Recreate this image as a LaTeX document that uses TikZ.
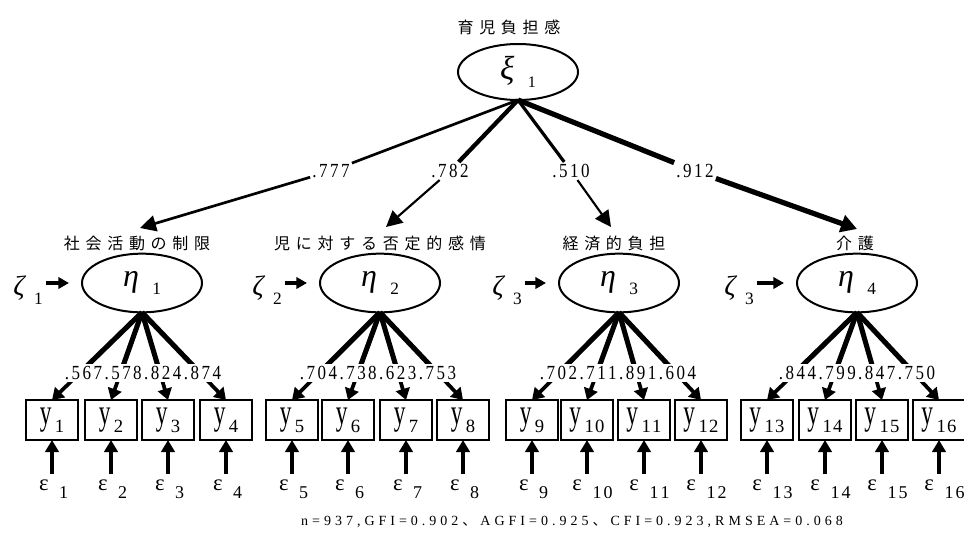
\documentclass[tikz,border=0pt]{standalone}
\usepackage{fontspec}
\usepackage{graphicx}
\setmainfont{Liberation Serif}
\newfontfamily\cjk{Noto Sans CJK JP}
\usetikzlibrary{arrows.meta,calc,shapes.geometric}
\makeatletter
\newcommand\lsp[2]{\@tfor\lsp@c:=#2\do{\lsp@c\hspace{#1}}\unskip}
\newcommand\lspx[2]{\edef\lsp@t{#2}\def\lsp@s{#1}\expandafter\lsp@go\expandafter{\lsp@t}}
\newcommand\lsp@go[1]{\lsp{\lsp@s}{#1}}
\makeatother
\newcommand\cj[1]{{\cjk\fontsize{12}{14}\selectfont\lsp{4.3pt}{#1}}}
\newcommand\Lat[4]{{\fontsize{#3}{#3}\selectfont\itshape #1}\hspace{10pt}\raisebox{-6pt}{\fontsize{#4}{#4}\selectfont #2}}
\newcommand\Zt[1]{{\fontsize{21}{21}\selectfont\itshape ζ}\hspace{7pt}\raisebox{-7pt}{\fontsize{13}{13}\selectfont #1}}
\newcommand\Yv[1]{\scalebox{0.65}[1]{\fontsize{27}{27}\selectfont y}\hspace{2.5pt}\raisebox{-6pt}{\fontsize{14}{14}\selectfont\lspx{1pt}{#1}}}
\newcommand\Ep[1]{{\fontsize{17}{17}\selectfont ε}\hspace{8pt}\raisebox{-6pt}{\fontsize{13.5}{13.5}\selectfont\lspx{1.5pt}{#1}}}
\newcommand\Num[1]{\scalebox{0.85}[1]{\fontsize{15}{15}\selectfont\lsp{2.2pt}{#1}}}
\begin{document}
\begin{tikzpicture}[x=0.75pt,y=-0.75pt,
  lat/.style={ellipse,draw,line width=1.5pt,minimum width=90pt,minimum height=44pt,inner sep=0pt,outer sep=0pt},
  obs/.style={draw,line width=1.5pt,minimum width=39.5pt,minimum height=30pt,inner sep=0pt,outer sep=0pt},
  ttl/.style={inner sep=0pt},
  ld/.style={fill=white,inner xsep=1.5pt,inner ysep=1.5pt,text height=10.2pt,text depth=0pt},
  fanup/.style={line width=3.8pt},
  fanlow/.style={line width=2.8pt,-{Triangle[width=10.5pt,length=8.5pt]}},
  earr/.style={line width=3pt,-{Triangle[width=10pt,length=9pt]}},
  zarr/.style={line width=3pt,-{Triangle[width=8.5pt,length=8pt]}},
  tarr/.style={-{Triangle[width=12pt,length=12pt]}},
]
\useasboundingbox (0,0) rectangle (964,557);
% top latent
\node[ttl] (title) at (509,27) {\cj{育児負担感}};
\node[lat,minimum width=90pt,minimum height=42pt] (xi) at (518,72) {\Lat{ξ}{1}{25}{12}};
% second-order latents
\node[lat] (eta1) at (142,283) {\Lat{η}{1}{24}{13}};
\node[lat] (eta2) at (380,283) {\Lat{η}{2}{24}{13}};
\node[lat] (eta3) at (619,283) {\Lat{η}{3}{24}{13}};
\node[lat] (eta4) at (857,283) {\Lat{η}{4}{24}{13}};
\node[ttl] (h1) at (137,243) {\cj{社会活動の制限}};
\node[ttl] (h2) at (380,243) {\cj{児に対する否定的感情}};
\node[ttl] (h3) at (614,243) {\cj{経済的負担}};
\node[ttl] (h4) at (855,243) {\cj{介護}};
% zetas
\node[ttl] (z1) at (28,290) {\Zt{1}};
\node[ttl] (z2) at (267,290) {\Zt{2}};
\node[ttl] (z3) at (507,290) {\Zt{3}};
\node[ttl] (z4) at (739,290) {\Zt{3}};
\foreach \k in {1,2,3,4}{
  \draw[zarr,shorten <=2pt,shorten >=9.75pt] (z\k.east |- eta\k.west) -- (eta\k.west);
}
% top paths
\coordinate (t1) at (140,228);
\coordinate (t2) at (386,227);
\coordinate (t3) at (611,227);
\coordinate (t4) at (857,229);
\node[ld] (l1) at (331,171) {\Num{.777}};
\node[ld] (l2) at (450,171) {\Num{.782}};
\node[ld] (l3) at (571,171) {\Num{.510}};
\node[ld] (l4) at (695,171) {\Num{.912}};
\draw[line width=2pt] (xi.south) -- (l1);
\draw[line width=2pt,tarr] (l1) -- (t1);
\draw[line width=3.2pt] (xi.south) -- (l2);
\draw[line width=1.6pt,tarr] (l2) -- (t2);
\draw[line width=2.4pt] (xi.south) -- (l3);
\draw[line width=1.6pt,tarr] (l3) -- (t3);
\draw[line width=3.9pt] (xi.south) -- (l4);
\draw[line width=3.9pt,-{Triangle[width=13pt,length=12pt]}] (l4) -- (t4);
% observed
\foreach \i/\cx in {1/52,2/111,3/168,4/226,5/292,6/348,7/406,8/463,9/532,10/587,11/644,12/701,13/767,14/825,15/882,16/939}{
  \node[obs] (y\i) at (\cx,420) {\Yv{\i}};
  \pgfmathsetmacro\dx{\i<10 ? 1.6 : 5.5}
  \node[ttl] (e\i) at (\cx+\dx,489) {\Ep{\i}};
  \draw[earr,shorten <=4pt] (y\i.south |- e\i.north) -- (y\i.south);
}
% fans
\foreach \e/\a/\b/\c/\d in {1/1/2/3/4,2/5/6/7/8,3/9/10/11/12,4/13/14/15/16}{
  \foreach \k in {\a,\b,\c,\d}{
    \draw[fanup] (eta\e.south) -- ($(eta\e.south)!0.65!(y\k.north)$);
    \draw[fanlow] (eta\e.south) -- (y\k.north);
  }
}
\node[ld] (g1) at (143,373) {\Num{.567.578.824.874}};
\node[ld] (g2) at (378,373) {\Num{.704.738.623.753}};
\node[ld] (g3) at (618,373) {\Num{.702.711.891.604}};
\node[ld] (g4) at (857,373) {\Num{.844.799.847.750}};
% fit indices
\node[ttl] (fit) at (572,522) {\fontsize{10.5}{10.5}\selectfont\lsp{3pt}{n=937,GFI=0.902{{\cjk 、}}AGFI=0.925{{\cjk 、}}CFI=0.923,RMSEA=0.068}};
\end{tikzpicture}
\end{document}
